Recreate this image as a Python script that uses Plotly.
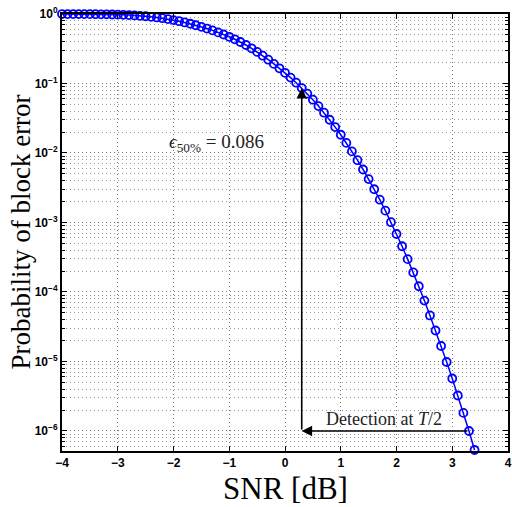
import math
import plotly.graph_objects as go

# SNR grid in dB (0.1 dB steps)
snr_db = [round(-4.0 + 0.1 * i, 1) for i in range(75)]

# Probability of block error
bler = [
    0.999, 0.9987, 0.998, 0.997, 0.996, 0.995, 0.9934, 0.9908, 0.9878, 0.9835,
    0.9784, 0.9719, 0.9639, 0.9541, 0.9421, 0.9279, 0.9112, 0.8917, 0.8695, 0.8444,
    0.8171, 0.7877, 0.7565, 0.7235, 0.6888, 0.6532, 0.6174, 0.5808, 0.5435, 0.5070,
    0.4697, 0.4325, 0.3955, 0.3581, 0.3209, 0.2849, 0.2512, 0.2200, 0.1914, 0.1654,
    0.1426, 0.1216, 0.1027, 0.0860, 0.0713, 0.0585, 0.0473, 0.0380, 0.0301, 0.0236,
    0.0183, 0.01397, 0.01054, 0.00788, 0.00579, 0.00421, 0.00301, 0.00213, 0.00148, 0.00101,
    6.83e-4, 4.55e-4, 2.97e-4, 1.91e-4, 1.21e-4, 7.52e-5, 4.60e-5, 2.79e-5, 1.67e-5, 9.83e-6,
    5.69e-6, 3.24e-6, 1.82e-6, 1.0e-6, 5.33e-7,
]

x_ticks = [-4, -3, -2, -1, 0, 1, 2, 3, 4]
y_tick_vals = [1e0, 1e-1, 1e-2, 1e-3, 1e-4, 1e-5, 1e-6]
y_tick_text = ["<b>10<sup>0</sup></b>", "<b>10<sup>−1</sup></b>", "<b>10<sup>−2</sup></b>",
               "<b>10<sup>−3</sup></b>", "<b>10<sup>−4</sup></b>", "<b>10<sup>−5</sup></b>",
               "<b>10<sup>−6</sup></b>"]
y_minor_vals = [m * 10.0 ** e for e in range(-7, 0) for m in range(2, 10)]

# annotation values
eps_snr = 0.3
eps_val = 0.086
detect_snr = 3.3
target_val = 1e-6

fig = go.Figure()
fig.add_trace(go.Scatter(
    x=snr_db, y=bler, mode="lines+markers",
    line=dict(color="#0000ff", width=1.5),
    marker=dict(symbol="circle-open", size=8, color="#0000ff", line=dict(width=1.8)),
    cliponaxis=False, showlegend=False,
))

fig.add_annotation(x=eps_snr, y=math.log10(eps_val), ax=eps_snr, ay=math.log10(target_val),
                   xref="x", yref="y", axref="x", ayref="y", showarrow=True,
                   arrowhead=2, arrowsize=1.3, arrowwidth=1.6, arrowcolor="black", text="")
fig.add_annotation(x=eps_snr, y=math.log10(target_val), ax=detect_snr, ay=math.log10(target_val),
                   xref="x", yref="y", axref="x", ayref="y", showarrow=True,
                   arrowhead=2, arrowsize=1.3, arrowwidth=1.6, arrowcolor="black", text="")
fig.add_annotation(x=-1.23, y=-1.86, xref="x", yref="y", showarrow=False,
                   text="<i>ϵ</i><sub>50%</sub> = 0.086",
                   font=dict(family="Liberation Serif", size=19, color="#222"))
fig.add_annotation(x=1.77, y=-5.83, xref="x", yref="y", showarrow=False,
                   text="Detection at <i>T</i>/2",
                   font=dict(family="Liberation Serif", size=18, color="#222"))

fig.add_annotation(x=-0.094, y=0.5, xref="paper", yref="paper", showarrow=False,
                   xanchor="center", yanchor="middle",
                   text="Probability of block error", textangle=-90,
                   font=dict(family="Liberation Serif", size=27, color="black"))
fig.add_annotation(x=0.5, y=-0.085, xref="paper", yref="paper", showarrow=False,
                   xanchor="center", yanchor="middle",
                   text="SNR [dB]",
                   font=dict(family="Liberation Serif", size=31, color="black"))

grid = dict(showgrid=True, gridcolor="#777", griddash="1px,3px", gridwidth=1)
fig.update_xaxes(range=[-4, 4], tickvals=x_ticks,
                 ticktext=["<b>%s</b>" % (str(v).replace("-", "−")) for v in x_ticks],
                 ticks="inside", ticklen=5, tickwidth=1, tickcolor="black",
                 showline=True, linecolor="black", linewidth=2, mirror="allticks",
                 zeroline=False, automargin=False, ticklabeloverflow="allow",
                 tickfont=dict(family="Liberation Sans", size=12, color="black"),
                 **grid)
fig.update_yaxes(type="log", range=[-6.288, 0], tickvals=y_tick_vals, ticktext=y_tick_text,
                 ticks="inside", ticklen=5, tickwidth=1, tickcolor="black",
                 showline=True, linecolor="black", linewidth=2, mirror="allticks",
                 zeroline=False, automargin=False, ticklabeloverflow="allow",
                 tickfont=dict(family="Liberation Sans", size=12, color="black"),
                 minor=dict(tickvals=y_minor_vals, ticks="inside", ticklen=3, tickcolor="black",
                            showgrid=True, gridcolor="#999", griddash="1px,3px", gridwidth=1),
                 **grid)

# slightly wider than the window so the right-edge tick label has room
fig.update_layout(width=520, height=507, margin=dict(l=62, r=12, t=14, b=56, autoexpand=False),
                  plot_bgcolor="white", paper_bgcolor="white")
fig.write_html("out.html", config={"displayModeBar": False},
               post_script="document.body.style.margin='0';document.body.style.overflow='hidden';")
